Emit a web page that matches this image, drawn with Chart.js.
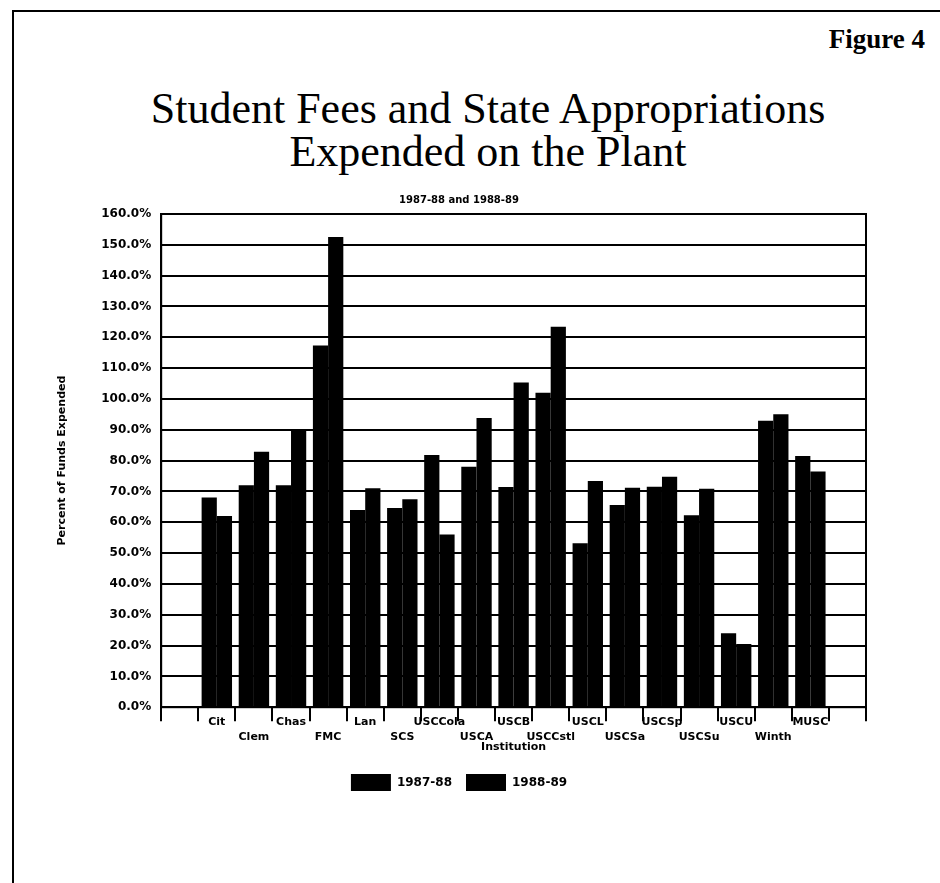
<!DOCTYPE html>
<html>
<head>
<meta charset="utf-8">
<script src="https://cdn.jsdelivr.net/npm/chart.js@4"></script>
<style>
  body { margin: 0; background: #fff; width: 940px; height: 883px; overflow: hidden; position: relative; font-family: "Liberation Serif", serif; }
  .frame { position: absolute; left: 12px; top: 10px; right: -4px; bottom: -4px; border-top: 2px solid #000; border-left: 2px solid #000; }
  .fig { position: absolute; right: 15px; top: 24px; font: bold 27px "Liberation Serif", serif; }
  .title { position: absolute; left: 0; width: 976px; top: 87px; text-align: center; font-size: 44px; line-height: 43px; }
  #wrap { position: absolute; left: 30px; top: 188px; width: 880px; height: 630px; }
</style>
</head>
<body>
<div class="frame"></div>
<div class="fig">Figure 4</div>
<div class="title">Student Fees and State Appropriations<br>Expended on the Plant</div>
<div id="wrap"><canvas id="chart"></canvas></div>
<script>
// institutions, left to right
const institutions = ['Cit', 'Clem', 'Chas', 'FMC', 'Lan', 'SCS', 'USCCola', 'USCA', 'USCB',
  'USCCstl', 'USCL', 'USCSa', 'USCSp', 'USCSu', 'USCU', 'Winth', 'MUSC'];
// percent of funds expended
const pct8788 = [68, 72, 72, 117.3, 64, 64.6, 81.8, 78, 71.4, 102, 53.2, 65.6, 71.5, 62.3, 24, 92.9, 81.5];
const pct8889 = [62, 82.9, 90, 152.5, 71, 67.5, 56, 93.8, 105.3, 123.4, 73.4, 71.2, 74.8, 70.9, 20.5, 95, 76.5];
const seriesNames = ['1987-88', '1988-89'];
const yMax = 160;
const yStep = 10;

// one empty slot on each side, like the original axis
const labels = ['', ...institutions, ''];
const pad = arr => [null, ...arr, null];

const boxPlugin = {
  id: 'box',
  afterDraw(c) {
    const { ctx, chartArea: a } = c;
    ctx.save();
    ctx.strokeStyle = '#000';
    ctx.lineWidth = 2;
    ctx.strokeRect(a.left, a.top, a.right - a.left, a.bottom - a.top);
    ctx.restore();
  }
};

const font = { family: 'DejaVu Sans', weight: 'bold', size: 11 };

new Chart(document.getElementById('chart'), {
  type: 'bar',
  data: {
    labels: labels,
    datasets: [
      { label: seriesNames[0], data: pad(pct8788), backgroundColor: '#000' },
      { label: seriesNames[1], data: pad(pct8889), backgroundColor: '#000' }
    ]
  },
  options: {
    responsive: true,
    maintainAspectRatio: false,
    animation: false,
    datasets: { bar: { barPercentage: 1.0, categoryPercentage: 0.82 } },
    layout: { padding: { left: 22, right: 44, top: 0, bottom: 17 } },
    plugins: {
      title: {
        display: true,
        text: seriesNames[0] + ' and ' + seriesNames[1],
        color: '#000',
        font: { family: 'DejaVu Sans', weight: 'bold', size: 10 },
        padding: { top: 6, bottom: 8 }
      },
      legend: {
        position: 'bottom',
        labels: {
          color: '#000',
          font: { family: 'DejaVu Sans', weight: 'bold', size: 12 },
          boxWidth: 40,
          boxHeight: 17,
          padding: 14
        }
      },
      tooltip: { enabled: false }
    },
    scales: {
      y: {
        min: 0,
        max: yMax,
        ticks: {
          stepSize: yStep,
          color: '#000',
          font: { family: 'DejaVu Sans', weight: 'bold', size: 12 },
          padding: 10,
          callback: v => v.toFixed(1) + '%'
        },
        grid: { color: '#000', lineWidth: 2, drawTicks: false },
        border: { color: '#000', width: 2 },
        title: {
          display: true,
          text: 'Percent of Funds Expended',
          color: '#000',
          font: font,
          padding: { top: 4, bottom: 22 }
        }
      },
      x: {
        ticks: {
          color: '#000',
          font: { family: 'DejaVu Sans', weight: 'bold', size: 11, lineHeight: 1.3 },
          autoSkip: false,
          maxRotation: 0,
          padding: -6,
          callback: function (v, i) {
            const l = labels[i];
            if (!l) return '';
            return (i - 1) % 2 === 1 ? ['', l] : l;
          }
        },
        grid: { offset: true, drawOnChartArea: false, color: '#000', lineWidth: 2, tickLength: 14 },
        border: { color: '#000', width: 2 },
        title: {
          display: true,
          text: 'Institution',
          color: '#000',
          font: font,
          padding: { top: 3, bottom: 6 }
        }
      }
    }
  },
  plugins: [boxPlugin]
});
</script>
</body>
</html>
